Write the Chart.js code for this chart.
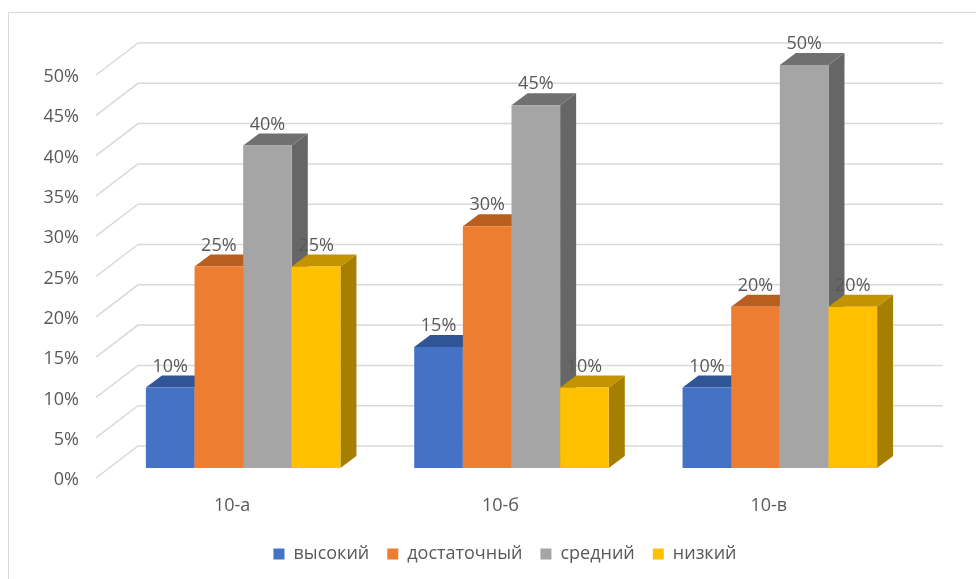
<!DOCTYPE html>
<html>
<head>
<meta charset="utf-8">
<title>Уровни по классам</title>
<script src="https://cdn.jsdelivr.net/npm/chart.js@4"></script>
<style>
    html, body { margin: 0; padding: 0; background: #fff; }
    #wrap { position: relative; width: 976px; height: 579px; overflow: hidden; }
    #frame { position: absolute; left: 8px; top: 12px; width: 968px; height: 567px; border-left: 1px solid #d9d9d9; border-top: 1px solid #d9d9d9; }
    canvas { position: absolute; left: 0; top: 0; }
</style>
</head>
<body>
<div id="wrap">
    <div id="frame"></div>
    <canvas id="chart" width="976" height="579"></canvas>
</div>
<script>
// Datos del gráfico
const categories = ['10-а', '10-б', '10-в'];
const seriesNames = ['высокий', 'достаточный', 'средний', 'низкий'];
const vysokiy = [10, 15, 10];
const dostatochnyy = [25, 30, 20];
const sredniy = [40, 45, 50];
const nizkiy = [25, 10, 20];

const frontColors = ['#4472C4', '#ED7D31', '#A5A5A5', '#FFC000'];
const topColors = ['#2F5597', '#B85F20', '#707070', '#C49300'];
const sideColors = ['#294B85', '#A0521B', '#666666', '#A67E00'];

const textColor = '#595959';
const gridColor = '#D9D9D9';
const fontFamily = '"Open Sans", "Noto Sans", sans-serif';

// Profundidad de las barras y de las paredes del gráfico
const barDepthX = 16;
const barDepthY = 12;
const wallBackX = 29;
const wallBackY = 22;
const floorFrontX = 13;
const floorFrontY = 10;
const legendShiftX = 48;

// Paredes 3D: cuadrícula trasera y líneas inclinadas
const wallsPlugin = {
    id: 'walls',
    // La leyenda va centrada en la imagen, no en el área del gráfico
    afterLayout(chart) {
        chart.legend.left += legendShiftX;
        chart.legend.right += legendShiftX;
    },
    beforeDatasetsDraw(chart) {
        const { ctx, scales: { y }, chartArea } = chart;
        ctx.save();
        ctx.strokeStyle = gridColor;
        ctx.lineWidth = 1.5;
        y.ticks.forEach(tick => {
            const py = y.getPixelForValue(tick.value);
            ctx.beginPath();
            ctx.moveTo(chartArea.left - floorFrontX, py + floorFrontY);
            ctx.lineTo(chartArea.left + wallBackX, py - wallBackY);
            ctx.lineTo(chartArea.right + wallBackX, py - wallBackY);
            ctx.stroke();
        });
        ctx.restore();
    }
};

// Caras superior y lateral de una serie
function drawBarFaces(chart, meta, i) {
    const { ctx } = chart;
    meta.data.forEach(bar => {
        const left = bar.x - bar.width / 2;
        const right = bar.x + bar.width / 2;
        ctx.save();
        ctx.fillStyle = sideColors[i];
        ctx.beginPath();
        ctx.moveTo(right, bar.y);
        ctx.lineTo(right + barDepthX, bar.y - barDepthY);
        ctx.lineTo(right + barDepthX, bar.base - barDepthY);
        ctx.lineTo(right, bar.base);
        ctx.closePath();
        ctx.fill();
        ctx.fillStyle = topColors[i];
        ctx.beginPath();
        ctx.moveTo(left, bar.y);
        ctx.lineTo(left + barDepthX, bar.y - barDepthY);
        ctx.lineTo(right + barDepthX, bar.y - barDepthY);
        ctx.lineTo(right, bar.y);
        ctx.closePath();
        ctx.fill();
        ctx.restore();
    });
}

// Chart.js pinta la primera serie encima; aquí se pinta de izquierda a derecha
const bar3dPlugin = {
    id: 'bar3d',
    beforeDatasetDraw() {
        return false;
    },
    afterDatasetsDraw(chart) {
        const { ctx } = chart;
        chart.data.datasets.forEach((ds, i) => {
            const meta = chart.getDatasetMeta(i);
            drawBarFaces(chart, meta, i);
            meta.controller.draw();
        });
        // Etiquetas de valor encima de todo
        ctx.save();
        ctx.font = '18px ' + fontFamily;
        ctx.fillStyle = textColor;
        ctx.textAlign = 'center';
        ctx.textBaseline = 'middle';
        chart.data.datasets.forEach((ds, i) => {
            chart.getDatasetMeta(i).data.forEach((bar, j) => {
                ctx.fillText(ds.data[j] + '%', bar.x, bar.y - 21);
            });
        });
        ctx.restore();
    }
};

const seriesValues = [vysokiy, dostatochnyy, sredniy, nizkiy];

new Chart(document.getElementById('chart').getContext('2d'), {
    type: 'bar',
    data: {
        labels: categories,
        datasets: seriesNames.map((name, i) => ({
            label: name,
            data: seriesValues[i],
            backgroundColor: frontColors[i]
        }))
    },
    options: {
        responsive: false,
        animation: false,
        layout: { padding: { left: 0, right: 62, top: 65, bottom: 6 } },
        categoryPercentage: 0.725,
        barPercentage: 1,
        scales: {
            x: {
                grid: { display: false },
                border: { display: false },
                afterFit(scale) { scale.height = 59; },
                ticks: {
                    color: textColor,
                    font: { family: fontFamily, size: 18 },
                    labelOffset: -11,
                    padding: 19
                }
            },
            y: {
                min: 0,
                max: 50,
                grid: { display: false },
                border: { display: false },
                afterFit(scale) { scale.width = 109; },
                ticks: {
                    stepSize: 5,
                    color: textColor,
                    font: { family: fontFamily, size: 18 },
                    labelOffset: 12,
                    padding: 22,
                    callback: value => value + '%'
                }
            }
        },
        plugins: {
            tooltip: { enabled: false },
            legend: {
                position: 'bottom',
                labels: {
                    color: textColor,
                    font: { family: fontFamily, size: 18 },
                    boxWidth: 11,
                    boxHeight: 11,
                    padding: 18
                }
            }
        }
    },
    plugins: [wallsPlugin, bar3dPlugin]
});
</script>
</body>
</html>
